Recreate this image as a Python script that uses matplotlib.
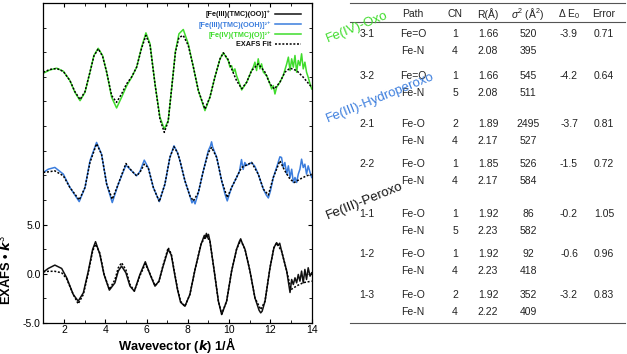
import matplotlib
matplotlib.use("Agg")
from matplotlib import pyplot as plt
from matplotlib.ticker import MultipleLocator, FixedLocator, FixedFormatter
from matplotlib.lines import Line2D

plt.rcParams['font.family'] = ['Liberation Sans', 'DejaVu Sans']
plt.rcParams['mathtext.fontset'] = 'custom'
plt.rcParams['mathtext.rm'] = 'Liberation Sans'
plt.rcParams['mathtext.it'] = 'Liberation Sans:italic'
plt.rcParams['mathtext.bf'] = 'Liberation Sans:bold'

# --- данные (k в 1/Å, значения без сдвига) ---
# [Fe(III)(TMC)(OO)]+
peroxo_k = [1.0, 1.24, 1.56, 1.89, 2.13, 2.45, 2.69, 2.94, 3.18, 3.39, 3.53, 3.74, 3.94, 4.2, 4.47,
            4.63, 4.79, 5.0, 5.2, 5.41, 5.68, 5.94, 6.17, 6.41, 6.6, 6.78, 7.05, 7.2, 7.35, 7.5,
            7.65, 7.86, 8.1, 8.35, 8.64, 8.8, 8.85, 8.9, 8.95, 9.0, 9.07, 9.28, 9.48, 9.64, 9.88,
            10.12, 10.36, 10.5, 10.56, 10.62, 10.77, 11.01, 11.25, 11.45, 11.53, 11.6, 11.74, 11.98,
            12.17, 12.3, 12.38, 12.45, 12.54, 12.79, 12.95, 13.03, 13.11, 13.19, 13.27, 13.35,
            13.43, 13.51, 13.59, 13.67, 13.75, 13.83, 13.92, 14.0]
peroxo_v = [0.17, 0.54, 0.88, 0.54, -0.4, -2.1, -2.78, -1.93, 0.27, 2.48, 3.26, 1.97, -0.07, -1.66,
            -0.92, 0.27, 0.78, 0.1, -1.26, -1.77, -0.07, 1.22, -0.07, -1.26, -0.75, 0.61, 2.48, 1.9,
            0.1, -1.6, -2.9, -3.3, -2.1, 0.44, 2.99, 3.9, 3.6, 4.1, 3.7, 4.0, 3.33, 0.27, -2.78,
            -4.14, -2.78, 0.27, 2.48, 3.3, 3.55, 3.2, 2.48, 0.27, -2.44, -3.7, -3.97, -3.8, -2.78,
            0.61, 2.65, 3.16, 2.9, 3.1, 2.31, 0.27, -1.9, -0.58, -1.09, -0.41, -0.92, -0.07, -0.75,
            0.27, -0.92, 0.44, -0.58, 0.61, -0.24, 0.1]
peroxo_fit_k = [1.0, 1.24, 1.56, 1.89, 2.13, 2.45, 2.69, 2.94, 3.18, 3.39, 3.53, 3.74, 3.94, 4.2,
                4.47, 4.63, 4.79, 5.0, 5.2, 5.41, 5.68, 5.94, 6.17, 6.41, 6.6, 6.78, 7.05, 7.2, 7.35,
                7.5, 7.65, 7.86, 8.1, 8.35, 8.64, 8.88, 9.07, 9.28, 9.48, 9.64, 9.88, 10.12, 10.36,
                10.56, 10.77, 11.01, 11.25, 11.53, 11.74, 11.98, 12.17, 12.3, 12.54, 12.79, 13.0,
                13.3, 13.6, 14.0]
peroxo_fit_v = [0.2, 0.25, 0.25, 0.1, -0.5, -2.1, -3.05, -2.1, 0.1, 2.3, 3.0, 2.1, 0.0, -1.6, -0.6,
                0.6, 1.12, 0.4, -1.1, -1.75, -0.2, 1.0, 0.0, -1.2, -0.8, 0.7, 2.65, 2.0, 0.2, -1.5,
                -2.8, -3.3, -2.1, 0.44, 3.0, 3.9, 3.3, 0.27, -2.78, -4.1, -2.78, 0.27, 2.48, 3.4,
                2.48, 0.27, -2.44, -3.63, -2.78, 0.61, 2.65, 3.1, 2.31, 0.27, -1.6, -1.2, -0.9, -0.75]

# [Fe(III)(TMC)(OOH)]2+
hydro_k = [1.0, 1.24, 1.56, 1.97, 2.29, 2.74, 3.02, 3.26, 3.58, 3.82, 4.07, 4.34, 4.63, 5.0, 5.28,
           5.52, 5.68, 5.89, 6.08, 6.33, 6.62, 6.89, 7.13, 7.33, 7.5, 7.62, 7.86, 8.1, 8.2, 8.27,
           8.35, 8.51, 8.75, 8.99, 9.1, 9.15, 9.2, 9.4, 9.64, 9.8, 9.91, 10.0, 10.12, 10.25, 10.36,
           10.5, 10.6, 10.68, 10.76, 10.85, 11.09, 11.25, 11.41, 11.66, 11.8, 11.9, 12.0, 12.14,
           12.3, 12.46, 12.54, 12.62, 12.7, 12.79, 12.87, 12.95, 13.03, 13.11, 13.19, 13.27, 13.35,
           13.43, 13.51, 13.59, 13.67, 13.75, 13.83, 13.92, 14.0]
hydro_v = [0.29, 0.62, 0.8, 0.12, -1.24, -2.67, -1.24, 1.47, 3.34, 2.15, -0.9, -2.77, -0.9, 1.03,
           0.45, -0.05, 0.38, 1.54, 0.79, -1.24, -2.67, -0.9, 1.81, 3.0, 2.3, 1.47, -0.56, -2.09,
           -2.8, -2.5, -2.9, -1.75, 0.45, 2.49, 3.0, 3.4, 2.9, 1.81, -0.56, -1.9, -2.6, -2.0, -1.24,
           -0.7, -0.22, 0.4, 1.6, 0.6, 1.3, 1.0, 1.3, 0.9, 0.12, -1.41, -2.0, -2.3, -1.6, -0.22,
           0.8, 1.88, 1.81, 0.79, 1.3, 0.12, 0.96, -0.22, 0.62, -0.73, -0.22, -0.73, 0.12, 0.62,
           1.64, 0.79, 1.13, 0.12, 0.96, 0.29, -0.22]
hydro_fit_k = [1.0, 1.24, 1.56, 1.97, 2.29, 2.74, 3.02, 3.26, 3.58, 3.82, 4.07, 4.34, 4.63, 5.0,
               5.28, 5.52, 5.68, 5.89, 6.08, 6.33, 6.62, 6.89, 7.13, 7.33, 7.5, 7.62, 7.86, 8.1,
               8.27, 8.51, 8.75, 8.99, 9.15, 9.4, 9.64, 9.91, 10.12, 10.36, 10.6, 11.09, 11.41,
               11.66, 11.9, 12.14, 12.46, 12.7, 12.95, 13.16, 13.43, 13.75, 14.0]
hydro_fit_v = [0.3, 0.35, 0.45, -0.05, -1.24, -2.5, -1.24, 1.3, 3.2, 2.15, -0.9, -2.43, -0.9, 1.2,
               0.45, -0.05, 0.3, 1.13, 0.79, -1.24, -2.67, -0.9, 1.81, 2.9, 2.3, 1.47, -0.56, -2.09,
               -2.6, -1.75, 0.45, 2.3, 2.83, 1.81, -0.56, -2.26, -1.24, -0.22, 0.79, 1.3, 0.12,
               -1.41, -2.0, -0.22, 1.47, 0.45, -0.39, -0.73, -0.39, -0.05, 0.1]

# [Fe(IV)(TMC)(O)]2+
oxo_k = [1.0, 1.32, 1.65, 1.97, 2.29, 2.53, 2.78, 3.02, 3.26, 3.45, 3.66, 3.87, 4.07, 4.31, 4.55,
         4.79, 5.04, 5.28, 5.52, 5.76, 5.97, 6.17, 6.41, 6.65, 6.86, 7.05, 7.21, 7.4, 7.57, 7.78,
         8.02, 8.27, 8.51, 8.83, 9.07, 9.31, 9.56, 9.72, 9.96, 10.04, 10.12, 10.2, 10.28, 10.36,
         10.45, 10.61, 10.85, 11.09, 11.17, 11.25, 11.33, 11.41, 11.49, 11.57, 11.66, 11.82, 11.98,
         12.06, 12.14, 12.22, 12.3, 12.46, 12.62, 12.79, 12.87, 12.95, 13.03, 13.11, 13.19, 13.27,
         13.35, 13.43, 13.51, 13.59, 13.67, 13.75, 13.83, 13.92, 14.0]
oxo_v = [0.37, 0.7, 0.88, 0.57, -0.38, -1.57, -2.42, -1.57, 0.47, 2.17, 2.9, 2.17, 0.47, -2.08,
         -3.16, -2.08, -0.9, -0.04, 0.98, 3.0, 4.47, 3.36, -0.72, -4.1, -5.3, -4.45, -1.3, 2.6, 4.37,
         4.81, 3.36, 0.98, -1.4, -3.43, -2.07, -0.04, 1.83, 2.44, 1.65, 0.98, 1.14, 0.47, 0.81,
         0.13, -0.38, -1.33, -0.55, 0.64, 0.98, 1.49, 0.64, 1.83, 0.81, 1.32, 0.47, 0.13, -0.72,
         -1.23, -0.89, -1.74, -1.06, -0.55, 0.13, 1.32, 2.0, 0.64, 1.83, 0.98, 2.17, 0.47, 1.66,
         1.15, 2.34, 0.81, 1.49, 0.47, -0.04, -0.72, -1.23]
oxo_fit_k = [1.0, 1.32, 1.65, 1.97, 2.29, 2.53, 2.78, 3.02, 3.26, 3.45, 3.66, 3.87, 4.07, 4.31,
             4.55, 4.79, 5.04, 5.28, 5.52, 5.76, 5.97, 6.17, 6.41, 6.65, 6.86, 7.05, 7.21, 7.4,
             7.57, 7.78, 8.02, 8.27, 8.51, 8.83, 9.07, 9.31, 9.56, 9.72, 9.93, 10.12, 10.36, 10.61,
             10.85, 11.09, 11.41, 11.74, 11.98, 12.19, 12.46, 12.7, 12.95, 13.27, 13.59, 14.0]
oxo_fit_v = [0.47, 0.75, 0.85, 0.55, -0.38, -1.5, -2.3, -1.5, 0.47, 2.1, 2.85, 2.1, 0.47, -1.9,
             -2.59, -1.74, -0.7, 0.0, 0.98, 2.9, 4.2, 3.2, -0.72, -4.3, -5.64, -4.5, -1.3, 2.5, 4.0,
             4.2, 3.2, 0.98, -1.4, -3.27, -2.07, -0.04, 1.83, 2.44, 1.83, 0.81, -0.38, -1.2, -0.55,
             0.64, 1.32, 0.47, -0.72, -1.23, -0.55, 0.47, 0.88, 0.64, -0.04, -1.06]

labels = ['[Fe(III)(TMC)(OO)]⁺', '[Fe(III)(TMC)(OOH)]²⁺', '[Fe(IV)(TMC)(O)]²⁺', 'EXAFS Fit']
colors = ['#111111', '#3b7ddd', '#3fdc2c']
offsets = [0, 10, 20]

# таблица
paths = ['3-1', '3-2', '2-1', '2-2', '1-1', '1-2', '1-3']
bond1 = ['Fe=O', 'Fe=O', 'Fe-O', 'Fe-O', 'Fe-O', 'Fe-O', 'Fe-O']
bond2 = ['Fe-N'] * 7
cn1 = ['1', '1', '2', '1', '1', '1', '2']
cn2 = ['4', '5', '4', '4', '5', '4', '4']
r1 = ['1.66', '1.66', '1.89', '1.85', '1.92', '1.92', '1.92']
r2 = ['2.08', '2.08', '2.17', '2.17', '2.23', '2.23', '2.22']
s1 = ['520', '545', '2495', '526', '86', '92', '352']
s2 = ['395', '511', '527', '584', '582', '418', '409']
de0 = ['-3.9', '-4.2', '-3.7', '-1.5', '-0.2', '-0.6', '-3.2']
err = ['0.71', '0.64', '0.81', '0.72', '1.05', '0.96', '0.83']
headers = ['Path', 'CN', 'R(Å)', r'$\sigma^2$ (Å$^2$)', r'$\Delta$ E$_0$', 'Error']

fig = plt.figure(figsize=(6.27, 3.54), dpi=100)
W, H = 627.0, 354.0
ax = fig.add_axes([43.3 / W, 31 / H, (311.7 - 43.3) / W, (351 - 31) / H])

dotted = (0, (1.3, 1.1))
data = [(peroxo_k, peroxo_v, peroxo_fit_k, peroxo_fit_v),
        (hydro_k, hydro_v, hydro_fit_k, hydro_fit_v),
        (oxo_k, oxo_v, oxo_fit_k, oxo_fit_v)]
for (k, v, fk, fv), c, off in zip(data, colors, offsets):
    ax.plot(k, [y + off for y in v], color=c, lw=1.1, zorder=2)
for (k, v, fk, fv), off in zip(data, offsets):
    ax.plot(fk, [y + off for y in fv], color='black', lw=1.1, ls=dotted, zorder=3)

ax.set_xlim(1, 14)
ax.set_ylim(-5, 27.5)
ax.xaxis.set_major_locator(MultipleLocator(2))
ax.xaxis.set_minor_locator(MultipleLocator(1))
ax.yaxis.set_major_locator(FixedLocator([-5, 0, 5]))
ax.yaxis.set_major_formatter(FixedFormatter(['-5.0', '0.0', '5.0']))
ax.yaxis.set_minor_locator(MultipleLocator(2.5))
ax.tick_params(which='both', direction='in', top=True, right=True, labelsize=7.5, length=3,
               pad=2)
ax.tick_params(axis='x', pad=1.5)
ax.tick_params(which='minor', length=2)
for sp in ax.spines.values():
    sp.set_linewidth(0.9)
ax.set_xlabel(r'Wavevector ($\mathbfit{k}$) 1/Å', fontsize=9.3, fontweight='bold', va='center')
ax.set_ylabel(r'EXAFS • $\mathbfit{k}^3$', fontsize=9.3, fontweight='bold')
ax.yaxis.set_label_coords(-0.11, 0.166)
ax.xaxis.set_label_coords(0.5, -0.068)

handles = [Line2D([], [], color=c, lw=1.1) for c in colors]
handles.append(Line2D([], [], color='black', lw=1.1, ls=dotted))
leg = ax.legend(handles, labels, loc='upper right', bbox_to_anchor=(0.975, 0.99), frameon=False,
                markerfirst=False, handlelength=3.6, labelspacing=0.35,
                handletextpad=0.5, borderaxespad=0.2, prop={'weight': 'bold', 'size': 5.2},
                labelcolor=['#111111', '#3b7ddd', '#3fdc2c', '#111111'])

# таблица справа
def px(x, y):
    return x / W, 1 - y / H

tcol = '#222222'
col_x = [367, 413, 455, 488, 528, 569, 604]
for x, h in zip(col_x[1:], headers):
    fig.text(*px(x, 14), h, ha='center', va='center', fontsize=7.5, color=tcol)
for yy in [3, 22, 323]:
    fig.add_artist(Line2D([350 / W, 625 / W], [1 - yy / H, 1 - yy / H], color='#555555', lw=0.8))

row_y = [34.3, 76, 124, 164.3, 214.3, 254.3, 295]
for i, y in enumerate(row_y):
    y2 = y + 17
    cells = [(col_x[0], y, paths[i]), (col_x[1], y, bond1[i]), (col_x[1], y2, bond2[i]),
             (col_x[2], y, cn1[i]), (col_x[2], y2, cn2[i]), (col_x[3], y, r1[i]),
             (col_x[3], y2, r2[i]), (col_x[4], y, s1[i]), (col_x[4], y2, s2[i]),
             (col_x[5], y, de0[i]), (col_x[6], y, err[i])]
    for x, yy, s in cells:
        fig.text(*px(x, yy), s, ha='center', va='center', fontsize=7.5, color=tcol)

fig.text(*px(357, 27), 'Fe(IV)-Oxo', color='#3fdc2c', rotation=22, ha='center', va='center',
         fontsize=9.5)
fig.text(*px(380, 98), 'Fe(III)-Hydroperoxo', color='#3b7ddd', rotation=22, ha='center',
         va='center', fontsize=9.5)
fig.text(*px(365, 201), 'Fe(III)-Peroxo', color='#111111', rotation=22, ha='center',
         va='center', fontsize=9.5)

fig.savefig('out.png', dpi=100)
